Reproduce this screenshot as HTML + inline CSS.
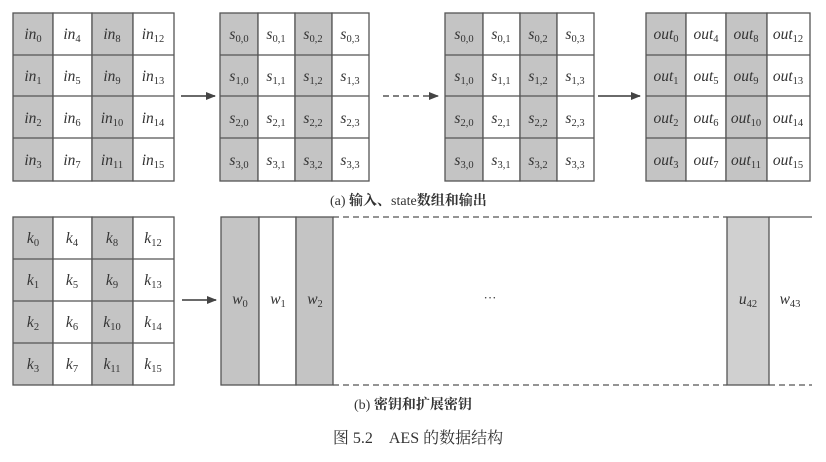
<!DOCTYPE html>
<html><head><meta charset="utf-8"><style>
html,body{margin:0;padding:0;background:#fff;width:826px;height:462px;overflow:hidden}
svg{display:block}
text{font-family:"Liberation Serif","Noto Serif CJK SC",serif;fill:#333}
.c{font-style:italic;font-size:15.5px}
.s{font-size:10.5px;font-style:normal}
</style></head><body>
<svg width="826" height="462" viewBox="0 0 826 462">
<defs><marker id="ah" markerWidth="10" markerHeight="8" refX="9" refY="4" orient="auto" markerUnits="userSpaceOnUse"><path d="M0,0 L10,4 L0,8 z" fill="#444"/></marker></defs>
<g stroke="#555" stroke-width="1.3">
<rect x="13" y="13" width="40" height="168" fill="#c4c4c4"/><rect x="53" y="13" width="39" height="168" fill="#fff"/><rect x="92" y="13" width="41" height="168" fill="#c4c4c4"/><rect x="133" y="13" width="41" height="168" fill="#fff"/>
<line x1="13" y1="55" x2="174" y2="55"/><line x1="13" y1="96" x2="174" y2="96"/><line x1="13" y1="138" x2="174" y2="138"/>
<rect x="220" y="13" width="38" height="168" fill="#c4c4c4"/><rect x="258" y="13" width="37" height="168" fill="#fff"/><rect x="295" y="13" width="37" height="168" fill="#c4c4c4"/><rect x="332" y="13" width="37" height="168" fill="#fff"/>
<line x1="220" y1="55" x2="369" y2="55"/><line x1="220" y1="96" x2="369" y2="96"/><line x1="220" y1="138" x2="369" y2="138"/>
<rect x="445" y="13" width="38" height="168" fill="#c4c4c4"/><rect x="483" y="13" width="37" height="168" fill="#fff"/><rect x="520" y="13" width="37" height="168" fill="#c4c4c4"/><rect x="557" y="13" width="37" height="168" fill="#fff"/>
<line x1="445" y1="55" x2="594" y2="55"/><line x1="445" y1="96" x2="594" y2="96"/><line x1="445" y1="138" x2="594" y2="138"/>
<rect x="646" y="13" width="40" height="168" fill="#c4c4c4"/><rect x="686" y="13" width="40" height="168" fill="#fff"/><rect x="726" y="13" width="41" height="168" fill="#c4c4c4"/><rect x="767" y="13" width="43" height="168" fill="#fff"/>
<line x1="646" y1="55" x2="810" y2="55"/><line x1="646" y1="96" x2="810" y2="96"/><line x1="646" y1="138" x2="810" y2="138"/>
<rect x="13" y="217" width="40" height="168" fill="#c4c4c4"/><rect x="53" y="217" width="39" height="168" fill="#fff"/><rect x="92" y="217" width="41" height="168" fill="#c4c4c4"/><rect x="133" y="217" width="41" height="168" fill="#fff"/>
<line x1="13" y1="259" x2="174" y2="259"/><line x1="13" y1="301" x2="174" y2="301"/><line x1="13" y1="343" x2="174" y2="343"/>
<rect x="221" y="217" width="38" height="168" fill="#c4c4c4"/><rect x="259" y="217" width="37" height="168" fill="#fff"/><rect x="296" y="217" width="37" height="168" fill="#c4c4c4"/>
<rect x="727" y="217" width="42" height="168" fill="#d0d0d0"/>
<line x1="333" y1="217" x2="727" y2="217" stroke-dasharray="6,4"/><line x1="333" y1="385" x2="727" y2="385" stroke-dasharray="6,4"/>
<line x1="769" y1="217" x2="812" y2="217"/><line x1="769" y1="385" x2="812" y2="385" stroke-dasharray="6,4"/>
<line x1="181" y1="96" x2="215" y2="96" marker-end="url(#ah)" stroke-width="1.8"/>
<line x1="383" y1="96" x2="438" y2="96" marker-end="url(#ah)" stroke-width="1.6" stroke-dasharray="6,4"/>
<line x1="598" y1="96" x2="640" y2="96" marker-end="url(#ah)" stroke-width="1.8"/>
<line x1="182" y1="300" x2="216" y2="300" marker-end="url(#ah)" stroke-width="1.8"/>
</g>
<g class="c" text-anchor="middle">
<text x="33" y="39">in<tspan class="s" dy="3">0</tspan></text><text x="72" y="39">in<tspan class="s" dy="3">4</tspan></text><text x="112" y="39">in<tspan class="s" dy="3">8</tspan></text><text x="153" y="39">in<tspan class="s" dy="3">12</tspan></text>
<text x="33" y="81">in<tspan class="s" dy="3">1</tspan></text><text x="72" y="81">in<tspan class="s" dy="3">5</tspan></text><text x="112" y="81">in<tspan class="s" dy="3">9</tspan></text><text x="153" y="81">in<tspan class="s" dy="3">13</tspan></text>
<text x="33" y="123">in<tspan class="s" dy="3">2</tspan></text><text x="72" y="123">in<tspan class="s" dy="3">6</tspan></text><text x="112" y="123">in<tspan class="s" dy="3">10</tspan></text><text x="153" y="123">in<tspan class="s" dy="3">14</tspan></text>
<text x="33" y="165">in<tspan class="s" dy="3">3</tspan></text><text x="72" y="165">in<tspan class="s" dy="3">7</tspan></text><text x="112" y="165">in<tspan class="s" dy="3">11</tspan></text><text x="153" y="165">in<tspan class="s" dy="3">15</tspan></text>

<text x="239" y="39">s<tspan class="s" dy="3">0,0</tspan></text><text x="276" y="39">s<tspan class="s" dy="3">0,1</tspan></text><text x="313" y="39">s<tspan class="s" dy="3">0,2</tspan></text><text x="350" y="39">s<tspan class="s" dy="3">0,3</tspan></text>
<text x="239" y="81">s<tspan class="s" dy="3">1,0</tspan></text><text x="276" y="81">s<tspan class="s" dy="3">1,1</tspan></text><text x="313" y="81">s<tspan class="s" dy="3">1,2</tspan></text><text x="350" y="81">s<tspan class="s" dy="3">1,3</tspan></text>
<text x="239" y="123">s<tspan class="s" dy="3">2,0</tspan></text><text x="276" y="123">s<tspan class="s" dy="3">2,1</tspan></text><text x="313" y="123">s<tspan class="s" dy="3">2,2</tspan></text><text x="350" y="123">s<tspan class="s" dy="3">2,3</tspan></text>
<text x="239" y="165">s<tspan class="s" dy="3">3,0</tspan></text><text x="276" y="165">s<tspan class="s" dy="3">3,1</tspan></text><text x="313" y="165">s<tspan class="s" dy="3">3,2</tspan></text><text x="350" y="165">s<tspan class="s" dy="3">3,3</tspan></text>

<text x="464" y="39">s<tspan class="s" dy="3">0,0</tspan></text><text x="501" y="39">s<tspan class="s" dy="3">0,1</tspan></text><text x="538" y="39">s<tspan class="s" dy="3">0,2</tspan></text><text x="575" y="39">s<tspan class="s" dy="3">0,3</tspan></text>
<text x="464" y="81">s<tspan class="s" dy="3">1,0</tspan></text><text x="501" y="81">s<tspan class="s" dy="3">1,1</tspan></text><text x="538" y="81">s<tspan class="s" dy="3">1,2</tspan></text><text x="575" y="81">s<tspan class="s" dy="3">1,3</tspan></text>
<text x="464" y="123">s<tspan class="s" dy="3">2,0</tspan></text><text x="501" y="123">s<tspan class="s" dy="3">2,1</tspan></text><text x="538" y="123">s<tspan class="s" dy="3">2,2</tspan></text><text x="575" y="123">s<tspan class="s" dy="3">2,3</tspan></text>
<text x="464" y="165">s<tspan class="s" dy="3">3,0</tspan></text><text x="501" y="165">s<tspan class="s" dy="3">3,1</tspan></text><text x="538" y="165">s<tspan class="s" dy="3">3,2</tspan></text><text x="575" y="165">s<tspan class="s" dy="3">3,3</tspan></text>

<text x="666" y="39">out<tspan class="s" dy="3">0</tspan></text><text x="706" y="39">out<tspan class="s" dy="3">4</tspan></text><text x="746" y="39">out<tspan class="s" dy="3">8</tspan></text><text x="788" y="39">out<tspan class="s" dy="3">12</tspan></text>
<text x="666" y="81">out<tspan class="s" dy="3">1</tspan></text><text x="706" y="81">out<tspan class="s" dy="3">5</tspan></text><text x="746" y="81">out<tspan class="s" dy="3">9</tspan></text><text x="788" y="81">out<tspan class="s" dy="3">13</tspan></text>
<text x="666" y="123">out<tspan class="s" dy="3">2</tspan></text><text x="706" y="123">out<tspan class="s" dy="3">6</tspan></text><text x="746" y="123">out<tspan class="s" dy="3">10</tspan></text><text x="788" y="123">out<tspan class="s" dy="3">14</tspan></text>
<text x="666" y="165">out<tspan class="s" dy="3">3</tspan></text><text x="706" y="165">out<tspan class="s" dy="3">7</tspan></text><text x="746" y="165">out<tspan class="s" dy="3">11</tspan></text><text x="788" y="165">out<tspan class="s" dy="3">15</tspan></text>

<text x="33" y="243">k<tspan class="s" dy="3">0</tspan></text><text x="72" y="243">k<tspan class="s" dy="3">4</tspan></text><text x="112" y="243">k<tspan class="s" dy="3">8</tspan></text><text x="153" y="243">k<tspan class="s" dy="3">12</tspan></text>
<text x="33" y="285">k<tspan class="s" dy="3">1</tspan></text><text x="72" y="285">k<tspan class="s" dy="3">5</tspan></text><text x="112" y="285">k<tspan class="s" dy="3">9</tspan></text><text x="153" y="285">k<tspan class="s" dy="3">13</tspan></text>
<text x="33" y="327">k<tspan class="s" dy="3">2</tspan></text><text x="72" y="327">k<tspan class="s" dy="3">6</tspan></text><text x="112" y="327">k<tspan class="s" dy="3">10</tspan></text><text x="153" y="327">k<tspan class="s" dy="3">14</tspan></text>
<text x="33" y="369">k<tspan class="s" dy="3">3</tspan></text><text x="72" y="369">k<tspan class="s" dy="3">7</tspan></text><text x="112" y="369">k<tspan class="s" dy="3">11</tspan></text><text x="153" y="369">k<tspan class="s" dy="3">15</tspan></text>

<text x="240" y="304">w<tspan class="s" dy="3">0</tspan></text><text x="278" y="304">w<tspan class="s" dy="3">1</tspan></text><text x="315" y="304">w<tspan class="s" dy="3">2</tspan></text>
<text x="748" y="304">u<tspan class="s" dy="3">42</tspan></text><text x="790" y="304">w<tspan class="s" dy="3">43</tspan></text>
</g>
<text x="490" y="302" font-size="13" text-anchor="middle">···</text>
<text x="330" y="205" font-size="14">(a) <tspan font-weight="bold">输入、</tspan>state<tspan font-weight="bold">数组和输出</tspan></text>
<text x="354" y="409" font-size="14">(b) <tspan font-weight="bold">密钥和扩展密钥</tspan></text>
<text x="418" y="443" font-size="16" text-anchor="middle">图 5.2　AES 的数据结构</text>
</svg>
</body></html>
